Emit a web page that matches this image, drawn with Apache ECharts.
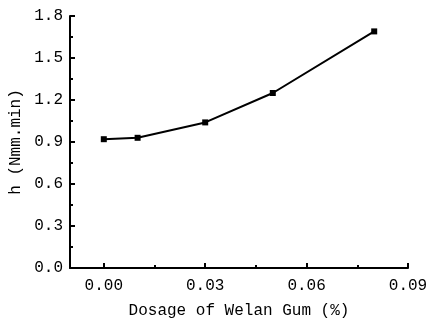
<!DOCTYPE html>
<html>
<head>
<meta charset="utf-8">
<script src="https://cdn.jsdelivr.net/npm/echarts@6/dist/echarts.min.js"></script>
<style>
  html, body { margin: 0; padding: 0; background: #fff; }
  #chart { width: 428px; height: 320px; }
</style>
</head>
<body>
<div id="chart"></div>
<script>
// Welan gum dosage (%) vs. h (Nmm.min)
const dosage = [0.00, 0.01, 0.03, 0.05, 0.08];
const hValues = [0.92, 0.93, 1.04, 1.25, 1.69];
const xTicks = [0.00, 0.03, 0.06, 0.09];
const xMinorTicks = [0.015, 0.045, 0.075];

const FONT = '"Liberation Mono", "DejaVu Sans Mono", monospace';
const points = dosage.map((d, i) => [d, hValues[i]]);

const chart = echarts.init(document.getElementById('chart'), null, { renderer: 'canvas' });
chart.setOption({
  animation: false,
  backgroundColor: '#fff',
  grid: { left: 70, right: 20, top: 16, bottom: 52, containLabel: false, outerBoundsMode: 'none' },
  xAxis: [
    {
      type: 'value',
      min: -0.01,
      max: 0.09,
      name: 'Dosage of Welan Gum (%)',
      nameLocation: 'middle',
      nameGap: 35,
      nameTextStyle: { fontFamily: FONT, fontSize: 16, color: '#000' },
      axisLine: { show: true, onZero: false, lineStyle: { color: '#000', width: 2 } },
      axisTick: { show: true, inside: true, length: 5, lineStyle: { color: '#000', width: 2 }, customValues: xTicks },
      axisLabel: {
        show: true, margin: 10, fontFamily: FONT, fontSize: 16, color: '#000',
        customValues: xTicks,
        formatter: v => v.toFixed(2)
      },
      splitLine: { show: false }
    },
    {
      type: 'value',
      min: -0.01,
      max: 0.09,
      position: 'bottom',
      axisLine: { show: false, onZero: false },
      axisTick: { show: true, inside: true, length: 3, lineStyle: { color: '#000', width: 2 }, customValues: xMinorTicks },
      axisLabel: { show: false },
      splitLine: { show: false }
    }
  ],
  yAxis: {
    type: 'value',
    min: 0,
    max: 1.8,
    interval: 0.3,
    name: 'h (Nmm.min)',
    nameLocation: 'middle',
    nameGap: 42,
    nameTextStyle: { fontFamily: FONT, fontSize: 16, color: '#000' },
    axisLine: { show: true, onZero: false, lineStyle: { color: '#000', width: 2 } },
    axisTick: { show: true, inside: true, length: 5, lineStyle: { color: '#000', width: 2 } },
    minorTick: { show: true, splitNumber: 2, length: 3, lineStyle: { color: '#000', width: 2 } },
    axisLabel: { margin: 7, fontFamily: FONT, fontSize: 16, color: '#000', formatter: v => v.toFixed(1) },
    splitLine: { show: false }
  },
  series: [{
    type: 'line',
    xAxisIndex: 0,
    data: points,
    symbol: 'rect',
    symbolSize: 6,
    lineStyle: { color: '#000', width: 2 },
    itemStyle: { color: '#000' }
  }]
});
</script>
</body>
</html>
